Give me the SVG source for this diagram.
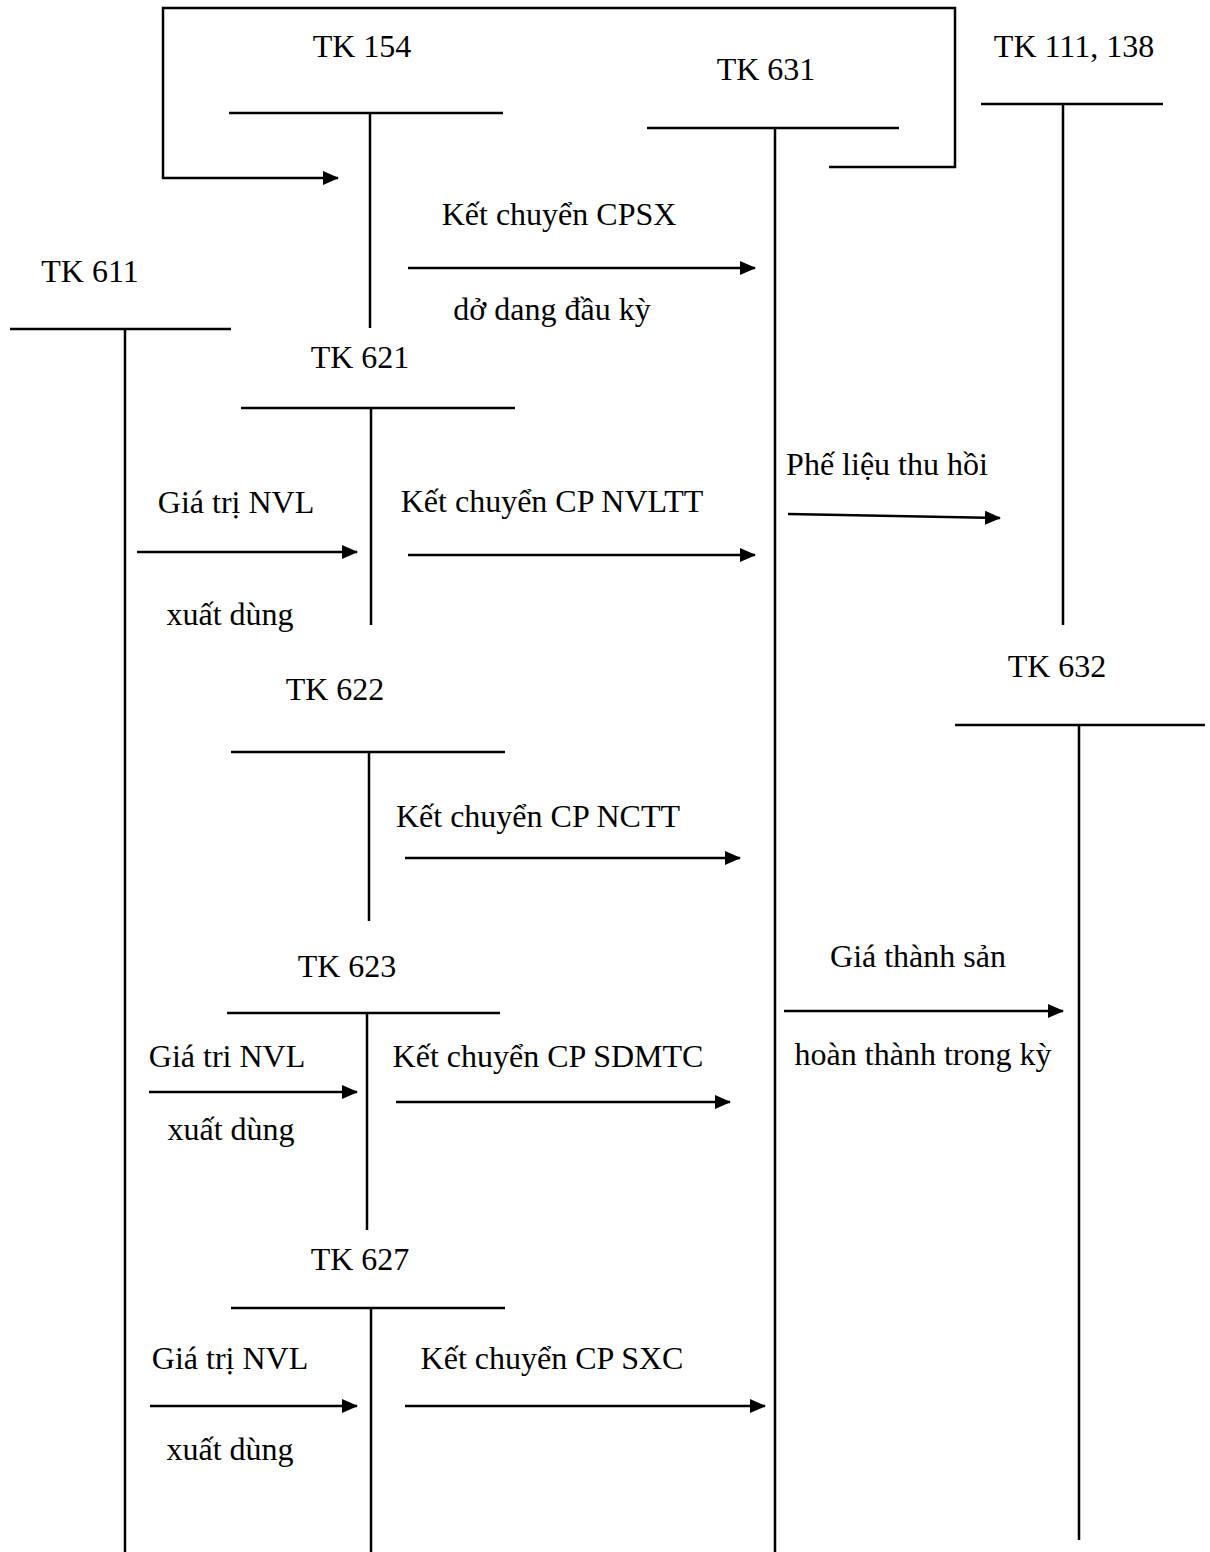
<svg xmlns="http://www.w3.org/2000/svg" width="1210" height="1552" viewBox="0 0 1210 1552">
  <style>
    .ln { stroke: #000; stroke-width: 2.5; fill: none; }
    .t { font-family: "Liberation Serif", "Times New Roman", serif; font-size: 32px; fill: #000; text-anchor: middle; }
  </style>
  <defs>
    <marker id="ah" viewBox="0 0 16 14" refX="15" refY="7" markerWidth="16" markerHeight="14" markerUnits="userSpaceOnUse" orient="auto">
      <path d="M0,0 L16,7 L0,14 Z" fill="#000"/>
    </marker>
  </defs>
  <rect width="1210" height="1552" fill="#fff"/>

  <!-- T-accounts -->
  <g id="tk154">
    <text class="t" x="362" y="57">TK 154</text>
    <line class="ln" x1="229" y1="113" x2="503" y2="113"/>
    <line class="ln" x1="370" y1="113" x2="370" y2="328"/>
  </g>
  <g id="tk631">
    <text class="t" x="766" y="80">TK 631</text>
    <line class="ln" x1="647" y1="128" x2="899" y2="128"/>
    <line class="ln" x1="775" y1="128" x2="775" y2="1552"/>
  </g>
  <g id="tk111">
    <text class="t" x="1074" y="57">TK 111, 138</text>
    <line class="ln" x1="981" y1="104" x2="1163" y2="104"/>
    <line class="ln" x1="1063" y1="104" x2="1063" y2="625"/>
  </g>
  <g id="tk611">
    <text class="t" x="90" y="282">TK 611</text>
    <line class="ln" x1="10" y1="329" x2="231" y2="329"/>
    <line class="ln" x1="125" y1="329" x2="125" y2="1552"/>
  </g>
  <g id="tk621">
    <text class="t" x="360" y="368">TK 621</text>
    <line class="ln" x1="241" y1="408" x2="515" y2="408"/>
    <line class="ln" x1="371" y1="408" x2="371" y2="625"/>
  </g>
  <g id="tk632">
    <text class="t" x="1057" y="677">TK 632</text>
    <line class="ln" x1="955" y1="725" x2="1205" y2="725"/>
    <line class="ln" x1="1079" y1="725" x2="1079" y2="1540"/>
  </g>
  <g id="tk622">
    <text class="t" x="335" y="700">TK 622</text>
    <line class="ln" x1="231" y1="752" x2="505" y2="752"/>
    <line class="ln" x1="369" y1="752" x2="369" y2="921"/>
  </g>
  <g id="tk623">
    <text class="t" x="347" y="977">TK 623</text>
    <line class="ln" x1="227" y1="1013" x2="500" y2="1013"/>
    <line class="ln" x1="367" y1="1013" x2="367" y2="1230"/>
  </g>
  <g id="tk627">
    <text class="t" x="360" y="1270">TK 627</text>
    <line class="ln" x1="231" y1="1308" x2="505" y2="1308"/>
    <line class="ln" x1="371" y1="1308" x2="371" y2="1552"/>
  </g>

  <!-- Connectors -->
  <g id="connectors">
    <!-- closing balance of 631 carried back to 154 -->
    <polyline class="ln" points="829,167 955,167 955,8 163,8 163,178 338,178" marker-end="url(#ah)"/>
    <line class="ln" x1="408" y1="268" x2="755" y2="268" marker-end="url(#ah)"/>
    <line class="ln" x1="137" y1="552" x2="357" y2="552" marker-end="url(#ah)"/>
    <line class="ln" x1="408" y1="555" x2="755" y2="555" marker-end="url(#ah)"/>
    <line class="ln" x1="788" y1="514" x2="1000" y2="518" marker-end="url(#ah)"/>
    <line class="ln" x1="405" y1="858" x2="740" y2="858" marker-end="url(#ah)"/>
    <line class="ln" x1="149" y1="1092" x2="357" y2="1092" marker-end="url(#ah)"/>
    <line class="ln" x1="396" y1="1102" x2="730" y2="1102" marker-end="url(#ah)"/>
    <line class="ln" x1="784" y1="1011" x2="1063" y2="1011" marker-end="url(#ah)"/>
    <line class="ln" x1="150" y1="1406" x2="357" y2="1406" marker-end="url(#ah)"/>
    <line class="ln" x1="405" y1="1406" x2="765" y2="1406" marker-end="url(#ah)"/>
  </g>

  <!-- Connector labels -->
  <g id="labels">
    <text class="t" x="559" y="225">Kết chuyển CPSX</text>
    <text class="t" x="552" y="320">dở dang đầu kỳ</text>
    <text class="t" x="236" y="513">Giá trị NVL</text>
    <text class="t" x="230" y="625">xuất dùng</text>
    <text class="t" x="552" y="512">Kết chuyển CP NVLTT</text>
    <text class="t" x="887" y="475">Phế liệu thu hồi</text>
    <text class="t" x="538" y="827">Kết chuyển CP NCTT</text>
    <text class="t" x="918" y="967">Giá thành sản</text>
    <text class="t" x="923" y="1065">hoàn thành trong kỳ</text>
    <text class="t" x="227" y="1067">Giá tri NVL</text>
    <text class="t" x="231" y="1140">xuất dùng</text>
    <text class="t" x="548" y="1067">Kết chuyển CP SDMTC</text>
    <text class="t" x="230" y="1369">Giá trị NVL</text>
    <text class="t" x="230" y="1460">xuất dùng</text>
    <text class="t" x="552" y="1369">Kết chuyển CP SXC</text>
  </g>
</svg>
